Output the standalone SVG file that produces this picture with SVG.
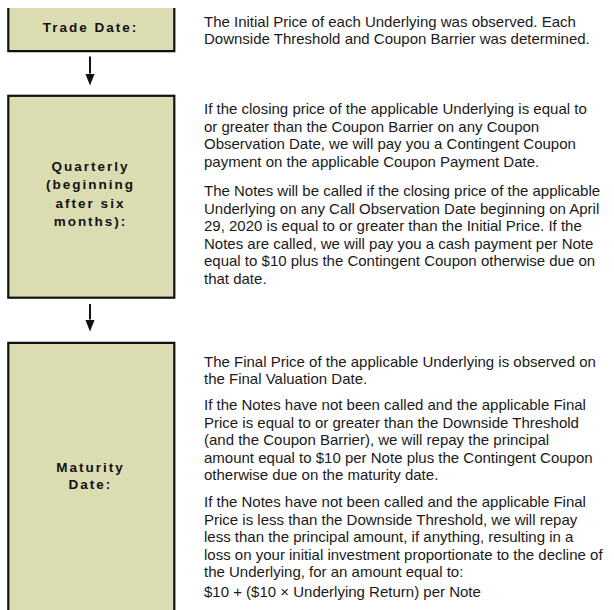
<svg xmlns="http://www.w3.org/2000/svg" width="614" height="610" viewBox="0 0 614 610">
<style>
.box{fill:#dcdcb2;stroke:none}
.edge{fill:none;stroke:#111;stroke-width:2.2}
.lbl{font-family:"Liberation Sans",Arial,sans-serif;font-weight:bold;font-size:13.5px;letter-spacing:2px;fill:#111;text-anchor:middle}
.body{font-family:"Liberation Sans",Arial,sans-serif;font-size:15px;fill:#1a1a1a}
.conn{stroke:#111;stroke-width:2;fill:none}
</style>
<defs>
<marker id="ah" markerUnits="userSpaceOnUse" markerWidth="12" markerHeight="10" refX="0" refY="4.75" orient="auto" viewBox="0 0 12 9.5">
<path d="M0,0 L12,4.75 L0,9.5 z" fill="#111"/>
</marker>
</defs>
<rect width="614" height="610" fill="#ffffff"/>
<g id="node-trade">
<rect class="box" x="8.3" y="8" width="166" height="43.2"/>
<path class="edge" d="M8.3,8 V51.2 H174.3 V8"/>
<text class="lbl" x="90.5" y="32.3">Trade Date:</text>
<text class="body" x="204" y="26.7">The Initial Price of each Underlying was observed. Each</text>
<text class="body" x="204" y="43.5">Downside Threshold and Coupon Barrier was determined.</text>
</g>
<g id="node-quarterly">
<rect class="box" x="8.3" y="95.8" width="166" height="201.9"/>
<rect class="edge" x="8.3" y="95.8" width="166" height="201.9"/>
<text class="lbl" x="90.5" y="171">Quarterly</text>
<text class="lbl" x="90.5" y="189.3">(beginning</text>
<text class="lbl" x="90.5" y="207.6">after six</text>
<text class="lbl" x="90.5" y="226">months):</text>
<text class="body" x="204" y="114">If the closing price of the applicable Underlying is equal to</text>
<text class="body" x="204" y="131.5">or greater than the Coupon Barrier on any Coupon</text>
<text class="body" x="204" y="149">Observation Date, we will pay you a Contingent Coupon</text>
<text class="body" x="204" y="166.5">payment on the applicable Coupon Payment Date.</text>
<text class="body" x="204" y="196">The Notes will be called if the closing price of the applicable</text>
<text class="body" x="204" y="213.5">Underlying on any Call Observation Date beginning on April</text>
<text class="body" x="204" y="231">29, 2020 is equal to or greater than the Initial Price. If the</text>
<text class="body" x="204" y="248.5">Notes are called, we will pay you a cash payment per Note</text>
<text class="body" x="204" y="266">equal to $10 plus the Contingent Coupon otherwise due on</text>
<text class="body" x="204" y="283.5">that date.</text>
</g>
<g id="node-maturity">
<rect class="box" x="8.3" y="342.8" width="166" height="270"/>
<path class="edge" d="M8.3,612 V342.8 H174.3 V612"/>
<text class="lbl" x="90.5" y="471.7">Maturity</text>
<text class="lbl" x="90.5" y="489.3">Date:</text>
<text class="body" x="204" y="366.7">The Final Price of the applicable Underlying is observed on</text>
<text class="body" x="204" y="384.2">the Final Valuation Date.</text>
<text class="body" x="204" y="410">If the Notes have not been called and the applicable Final</text>
<text class="body" x="204" y="427.5">Price is equal to or greater than the Downside Threshold</text>
<text class="body" x="204" y="445">(and the Coupon Barrier), we will repay the principal</text>
<text class="body" x="204" y="462.5">amount equal to $10 per Note plus the Contingent Coupon</text>
<text class="body" x="204" y="480">otherwise due on the maturity date.</text>
<text class="body" x="204" y="507.3">If the Notes have not been called and the applicable Final</text>
<text class="body" x="204" y="524.8">Price is less than the Downside Threshold, we will repay</text>
<text class="body" x="204" y="542.3">less than the principal amount, if anything, resulting in a</text>
<text class="body" x="204" y="559.8">loss on your initial investment proportionate to the decline of</text>
<text class="body" x="204" y="577.3">the Underlying, for an amount equal to:</text>
<text class="body" x="204" y="596.7">$10 + ($10 × Underlying Return) per Note</text>
</g>
<g id="connectors">
<line class="conn" x1="90" y1="56.5" x2="90" y2="73.5" marker-end="url(#ah)"/>
<line class="conn" x1="90" y1="304" x2="90" y2="319.5" marker-end="url(#ah)"/>
</g>
</svg>
